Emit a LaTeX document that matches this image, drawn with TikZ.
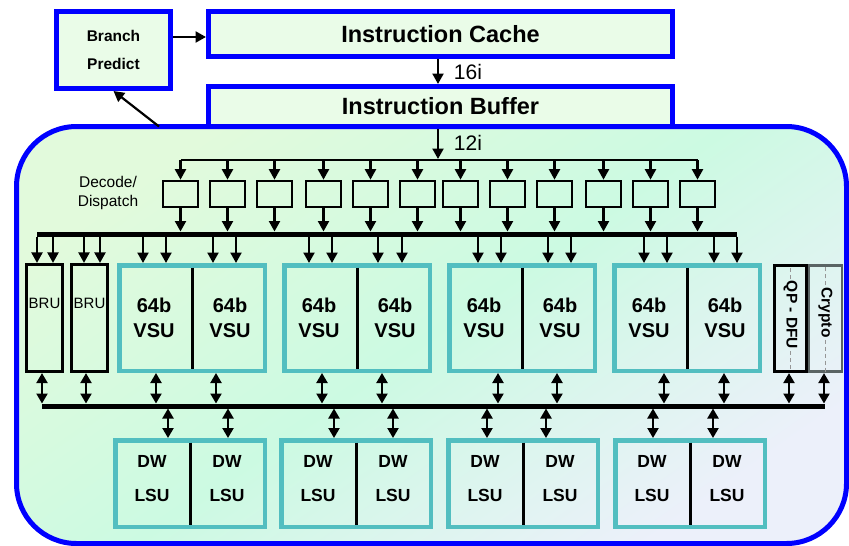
\documentclass[tikz,border=0pt]{standalone}
\usepackage{fontspec}
\setmainfont{Liberation Sans}
\usetikzlibrary{arrows.meta,calc}
\definecolor{pblue}{RGB}{0,0,255}
\definecolor{boxfill}{RGB}{234,252,232}
\definecolor{tealc}{RGB}{82,190,192}
\definecolor{bgA}{RGB}{226,250,220}
\definecolor{bgB}{RGB}{204,250,226}
\definecolor{bgC}{RGB}{236,240,250}
\definecolor{dgray}{RGB}{90,100,100}
\definecolor{dashg}{RGB}{150,150,150}
\begin{document}
\begin{tikzpicture}[x=1pt,y=-1pt,
  bluebox/.style={draw=pblue, line width=5pt, fill=boxfill, inner sep=0pt, font=\bfseries\fontsize{23.5}{28}\selectfont},
  bbox/.style={draw=black, line width=2.7pt, inner sep=0pt},
  vbox/.style={draw=tealc, line width=4.5pt, inner sep=0pt},
  arr/.style={line width=2.2pt, -{Triangle[length=10.5pt,width=11pt]}},
  darr/.style={line width=2.2pt, {Triangle[length=10pt,width=11pt]}-{Triangle[length=10pt,width=11pt]}},
  busline/.style={line width=5pt},
  vtxt/.style={font=\bfseries\fontsize{20}{25}\selectfont, align=center, inner sep=0pt},
  ltxt/.style={font=\bfseries\fontsize{17.5}{34}\selectfont, align=center, inner sep=0pt},
  rtxt/.style={font=\bfseries\fontsize{15.5}{18}\selectfont, rotate=-90, inner sep=2pt},
  dsh/.style={draw=dashg, line width=1.2pt, dash pattern=on 4pt off 3pt}
]
\useasboundingbox (0,0) rectangle (849,546);

% core region
\node[draw=pblue, line width=5pt, rounded corners=60pt, outer sep=0pt, inner sep=0pt,
      minimum width=830pt, minimum height=417pt,
      top color=bgA, bottom color=bgC, middle color=bgB, shading angle=35] (core) at (431.5,335) {};

% front end
\node[bluebox, font=\bfseries\fontsize{15.5}{28}\selectfont, align=center,
      minimum width=114pt, minimum height=77pt] (bp) at (113.5,50) {Branch\\Predict};
\node[bluebox, minimum width=464pt, minimum height=45pt] (cache) at (440.5,34) {Instruction Cache};
\node[bluebox, minimum width=464pt, minimum height=40pt] (buffer) at (440.5,106.5) {Instruction Buffer};

\draw[arr] ([yshift=13pt]bp.east) -- ([yshift=13pt]bp.east -| cache.west);
\draw[arr] (438,0 |- cache.south) -- (438,0 |- buffer.north);
\node[font=\fontsize{21}{24}\selectfont, inner sep=0pt] (l16) at (468,72) {16i};
\draw[arr] (159,0 |- core.north) -- (bp.south);

% decode distribution
\coordinate (dlL) at (180.5,160);
\coordinate (dlR) at (697.5,160);
\draw[line width=2.2pt] (dlL) -- (dlR);
\draw[arr] (438,0 |- buffer.south) -- (438,159);
\node[font=\fontsize{21}{24}\selectfont, inner sep=0pt] (l12) at (468,143) {12i};
\node[font=\fontsize{15.5}{19}\selectfont, align=center, inner sep=0pt] (dd) at (108,192.5) {Decode/\\Dispatch};

% bus 1
\coordinate (b1L) at (37,234);
\coordinate (b1R) at (737,234);
\coordinate (b1t) at (0,231.5);
\coordinate (b1b) at (0,236.5);

\foreach \x [count=\i] in {180.5,227.5,274.5,323.5,370.5,417.5,460.5,507.5,554.5,603.5,650.5,697.5} {
  \node[bbox, minimum width=35pt, minimum height=26pt] (d\i) at (\x,194) {};
  \draw[arr] (\x,0 |- dlL) -- (d\i.north);
  \draw[arr] (d\i.south) -- (\x,0 |- b1t);
}
\draw[busline] (b1L) -- (b1R);

% BRU
\node[bbox, minimum width=36.5pt, minimum height=107.5pt] (bru1) at (44.5,318) {};
\node[bbox, minimum width=36.5pt, minimum height=107.5pt] (bru2) at (89.5,318) {};
\node[font=\fontsize{15}{18}\selectfont, inner sep=0pt] (brut1) at (44.5,303) {BRU};
\node[font=\fontsize{15}{18}\selectfont, inner sep=0pt] (brut2) at (89.5,303) {BRU};

% VSU pairs
\foreach \cx [count=\i] in {192,357,522,687} {
  \node[vbox, minimum width=145.5pt, minimum height=105.5pt] (v\i) at (\cx,318) {};
  \draw[line width=3pt] ([yshift=-4.5pt]v\i.north) -- ([yshift=4.5pt]v\i.south);
  \node[vtxt] (va\i) at ({\cx-38},317.5) {64b\\VSU};
  \node[vtxt] (vb\i) at ({\cx+38},317.5) {64b\\VSU};
}

% QP-DFU and Crypto
\node[draw=dgray, line width=2.7pt, inner sep=0pt, minimum width=33pt, minimum height=106.5pt] (cr) at (825.5,318.5) {};
\node[bbox, minimum width=32.5pt, minimum height=106.5pt] (qp) at (790.5,318.5) {};
\node[rtxt] (qpt) at (790.5,315) {QP - DFU};
\node[rtxt] (crt) at (825.5,312.5) {Crypto};
\draw[dsh, shorten >=1.5pt] (qpt.west) -- (qpt.west |- qp.north);
\draw[dsh, shorten >=1.5pt] (qpt.east) -- (qpt.east |- qp.south);
\draw[dsh, shorten >=1.5pt] (crt.west) -- (crt.west |- cr.north);
\draw[dsh, shorten >=1.5pt] (crt.east) -- (crt.east |- cr.south);

\foreach \x/\n in {37/bru1,53/bru1,84/bru2,100/bru2,
                   143/v1,166/v1,213/v1,236/v1,
                   309/v2,332/v2,378/v2,402/v2,
                   478/v3,501/v3,548/v3,571/v3,
                   644/v4,667/v4,714/v4,737/v4} {
  \draw[arr] (\x,0 |- b1b) -- (\x,0 |- \n.north);
}

% bus 2
\coordinate (b2L) at (42,406);
\coordinate (b2R) at (825,406);
\coordinate (b2t) at (0,403.5);
\coordinate (b2b) at (0,408.5);
\draw[busline] (b2L) -- (b2R);

\foreach \x/\n in {42/bru1,86/bru2,156/v1,216/v1,322/v2,382/v2,498/v3,557/v3,664/v4,724/v4,789/qp,824/cr} {
  \draw[darr] (\x,0 |- \n.south) -- (\x,0 |- b2t);
}

% LSU pairs
\foreach \cx [count=\i] in {190,356,523,690} {
  \node[vbox, minimum width=149.5pt, minimum height=86.5pt] (l\i) at (\cx,483.5) {};
  \draw[line width=3pt] ([yshift=-4.5pt]l\i.north) -- ([yshift=4.5pt]l\i.south);
  \node[ltxt] (la\i) at ({\cx-38},479) {DW\\LSU};
  \node[ltxt] (lb\i) at ({\cx+37},479) {DW\\LSU};
}

\foreach \x/\n in {168/l1,228/l1,334/l2,393/l2,487/l3,546/l3,653/l4,713/l4} {
  \draw[darr] (\x,0 |- b2b) -- (\x,0 |- \n.north);
}
\end{tikzpicture}
\end{document}
